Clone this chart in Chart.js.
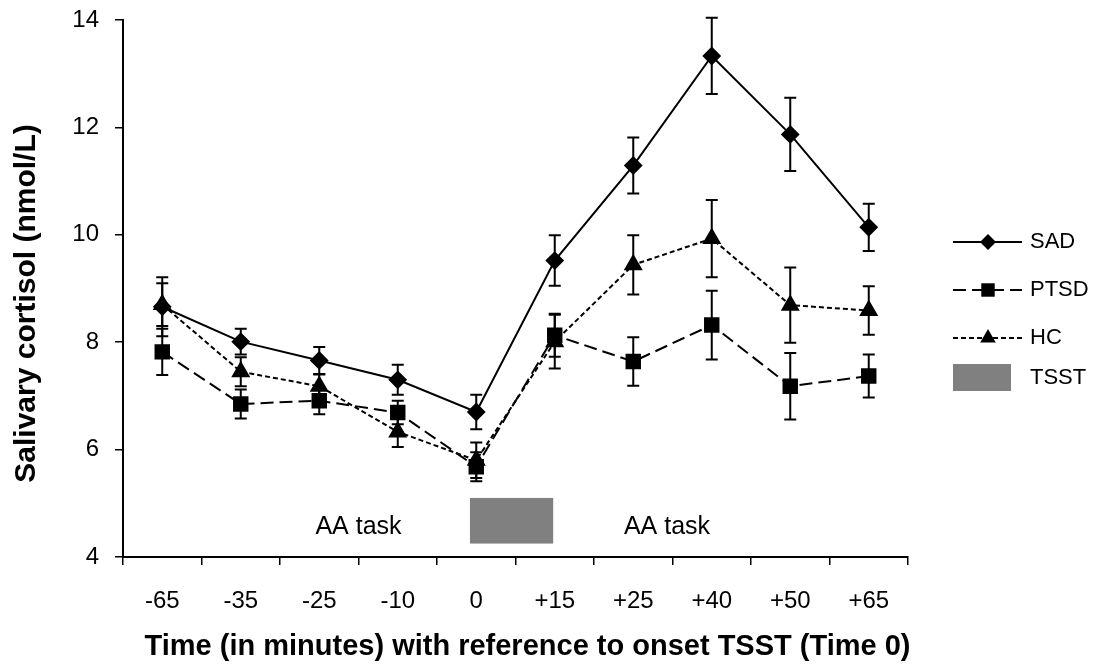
<!DOCTYPE html>
<html>
<head>
<meta charset="utf-8">
<script src="https://cdn.jsdelivr.net/npm/chart.js@4.4.1/dist/chart.umd.min.js"></script>
<style>
  html, body { margin: 0; padding: 0; background: #fff; }
</style>
</head>
<body>
<canvas id="cortisolChart" width="1099" height="668"></canvas>
<script>
// time points (minutes relative to TSST onset)
const timeLabels = ['-65', '-35', '-25', '-10', '0', '+15', '+25', '+40', '+50', '+65'];

// mean salivary cortisol (nmol/L) and error bar half-widths
const sadMean  = [8.66, 8.01, 7.66, 7.30, 6.70, 9.52, 11.29, 13.33, 11.87, 10.14];
const sadErr   = [0.55, 0.24, 0.25, 0.28, 0.32, 0.47, 0.52, 0.71, 0.68, 0.44];
const ptsdMean = [7.82, 6.85, 6.91, 6.69, 5.68, 8.13, 7.64, 8.32, 7.18, 7.37];
const ptsdErr  = [0.43, 0.27, 0.25, 0.22, 0.27, 0.40, 0.45, 0.64, 0.62, 0.40];
const hcMean   = [8.70, 7.45, 7.18, 6.33, 5.80, 8.01, 9.44, 9.93, 8.69, 8.59];
const hcErr    = [0.40, 0.27, 0.22, 0.28, 0.33, 0.50, 0.55, 0.72, 0.70, 0.45];

// y axis ticks
const yTicks = [4, 6, 8, 10, 12, 14];

// TSST block (category index range, cortisol range) and task labels
const tsstSpan = [3.92, 4.98];
const tsstLevel = [4.25, 5.1];
const taskLabels = ['AA task', 'AA task'];
const taskLabelAt = [2.5, 6.43];
const taskLabelLevel = 4.56;

const FONT = "'Liberation Sans', Arial, sans-serif";

// error bars + TSST block + task labels, drawn under the lines
const underlay = {
    id: 'underlay',
    beforeDatasetsDraw(chart) {
        const ctx = chart.ctx;
        const x = chart.scales.x;
        const y = chart.scales.y;
        ctx.save();

        // TSST block
        ctx.fillStyle = '#808080';
        const bx0 = x.getPixelForValue(tsstSpan[0]);
        const bx1 = x.getPixelForValue(tsstSpan[1]);
        const by0 = y.getPixelForValue(tsstLevel[1]);
        const by1 = y.getPixelForValue(tsstLevel[0]);
        ctx.fillRect(bx0, by0, bx1 - bx0, by1 - by0);

        // task labels
        ctx.fillStyle = '#000';
        ctx.font = '25px ' + FONT;
        ctx.textAlign = 'center';
        ctx.textBaseline = 'middle';
        taskLabels.forEach((t, i) => {
            ctx.fillText(t, x.getPixelForValue(taskLabelAt[i]), y.getPixelForValue(taskLabelLevel));
        });

        // error bars
        ctx.strokeStyle = '#000';
        ctx.lineWidth = 2;
        chart.data.datasets.forEach((ds, i) => {
            const meta = chart.getDatasetMeta(i);
            meta.data.forEach((pt, j) => {
                const top = y.getPixelForValue(ds.data[j] + ds.errors[j]);
                const bot = y.getPixelForValue(ds.data[j] - ds.errors[j]);
                ctx.beginPath();
                ctx.moveTo(pt.x, top);
                ctx.lineTo(pt.x, bot);
                ctx.moveTo(pt.x - 6, top);
                ctx.lineTo(pt.x + 6, top);
                ctx.moveTo(pt.x - 6, bot);
                ctx.lineTo(pt.x + 6, bot);
                ctx.stroke();
            });
        });
        ctx.restore();
    }
};

// axis titles and the legend at the right
const decorations = {
    id: 'decorations',
    afterDraw(chart) {
        const ctx = chart.ctx;
        const area = chart.chartArea;
        ctx.save();
        ctx.fillStyle = '#000';
        ctx.textBaseline = 'middle';

        // y title
        ctx.font = 'bold 30px ' + FONT;
        ctx.textAlign = 'center';
        ctx.save();
        ctx.translate(27, (area.top + area.bottom) / 2 + 15);
        ctx.rotate(-Math.PI / 2);
        ctx.fillText('Salivary cortisol (nmol/L)', 0, 0);
        ctx.restore();

        // x title
        ctx.font = 'bold 29px ' + FONT;
        ctx.fillText('Time (in minutes) with reference to onset TSST (Time 0)', (area.left + area.right) / 2 + 12, 647);

        // legend
        const lx0 = area.right + 45, lx1 = area.right + 114, mx = area.right + 80, tx = area.right + 122;
        const rows = [242, 290, 338];
        ctx.font = '22px ' + FONT;
        ctx.textAlign = 'left';
        chart.data.datasets.forEach((ds, i) => {
            const ry = rows[i];
            ctx.strokeStyle = '#000';
            ctx.lineWidth = ds.borderWidth;
            ctx.setLineDash(ds.borderDash || []);
            ctx.beginPath();
            ctx.moveTo(lx0, ry);
            ctx.lineTo(lx1, ry);
            ctx.stroke();
            ctx.setLineDash([]);
            ctx.fillStyle = '#000';
            Chart.helpers.drawPoint(ctx, {pointStyle: ds.pointStyle, radius: ds.pointRadius, rotation: 0, borderWidth: 0}, mx, ry);
            ctx.fillText(ds.label, tx, ry);
        });
        ctx.fillStyle = '#808080';
        ctx.fillRect(lx0, 364, 58, 27);
        ctx.fillStyle = '#000';
        ctx.fillText('TSST', tx, 378);
        ctx.restore();
    }
};

const ctx = document.getElementById('cortisolChart');

new Chart(ctx, {
    type: 'line',
    data: {
        labels: timeLabels,
        datasets: [
            {
                label: 'SAD',
                data: sadMean,
                errors: sadErr,
                borderColor: '#000',
                backgroundColor: '#000',
                borderWidth: 2,
                pointStyle: 'rectRot',
                pointRadius: 8,
                tension: 0
            },
            {
                label: 'PTSD',
                data: ptsdMean,
                errors: ptsdErr,
                borderColor: '#000',
                backgroundColor: '#000',
                borderWidth: 2,
                borderDash: [13, 6],
                pointStyle: 'rect',
                pointRadius: 9.5,
                tension: 0
            },
            {
                label: 'HC',
                data: hcMean,
                errors: hcErr,
                borderColor: '#000',
                backgroundColor: '#000',
                borderWidth: 2,
                borderDash: [5, 3],
                pointStyle: 'triangle',
                pointRadius: 9,
                tension: 0
            }
        ]
    },
    options: {
        responsive: false,
        animation: false,
        devicePixelRatio: 1,
        layout: {
            padding: { top: 20, right: 191, bottom: 0, left: 0 }
        },
        plugins: {
            legend: { display: false },
            tooltip: { enabled: false }
        },
        scales: {
            x: {
                offset: true,
                grid: {
                    offset: true,
                    drawOnChartArea: false,
                    drawTicks: true,
                    tickLength: 8,
                    color: '#000',
                    lineWidth: 1.5
                },
                border: { color: '#000', width: 2 },
                ticks: {
                    color: '#000',
                    padding: 22,
                    font: { family: FONT, size: 24 }
                },
                afterFit(scale) { scale.height = 111; }
            },
            y: {
                min: yTicks[0],
                max: yTicks[yTicks.length - 1],
                afterBuildTicks(scale) { scale.ticks = yTicks.map(v => ({ value: v })); },
                grid: {
                    drawOnChartArea: false,
                    drawTicks: true,
                    tickLength: 8,
                    color: '#000',
                    lineWidth: 1.5
                },
                border: { color: '#000', width: 2 },
                ticks: {
                    color: '#000',
                    padding: 16,
                    font: { family: FONT, size: 24 }
                },
                afterFit(scale) {
                    scale.width = 123;
                    scale.paddingTop = 0;
                    scale.paddingBottom = 0;
                }
            }
        }
    },
    plugins: [underlay, decorations]
});
</script>
</body>
</html>
